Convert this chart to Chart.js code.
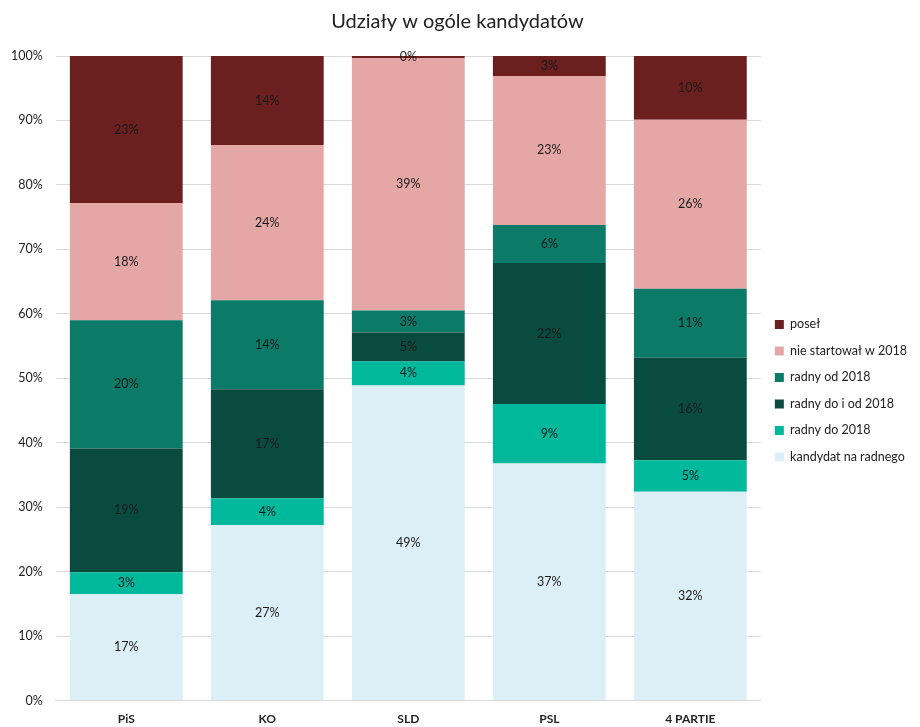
<!DOCTYPE html>
<html>
<head>
<meta charset="utf-8">
<script src="https://cdn.jsdelivr.net/npm/chart.js@4"></script>
<style>
  html, body { margin: 0; padding: 0; background: #fff; }
  #wrap { width: 920px; height: 727px; }
</style>
</head>
<body>
<div id="wrap"><canvas id="myChart" width="920" height="727"></canvas></div>
<script>
// categories and series (bottom of the stack first), values in %
var categories = ['PiS', 'KO', 'SLD', 'PSL', '4 PARTIE'];
var seriesNames = ['kandydat na radnego', 'radny do 2018', 'radny do i od 2018', 'radny od 2018', 'nie startował w 2018', 'poseł'];
var kandydat = [16.5, 27.2, 48.9, 36.8, 32.4];
var radnyDo = [3.4, 4.2, 3.7, 9.2, 4.9];
var radnyDoIOd = [19.2, 16.9, 4.5, 21.9, 15.9];
var radnyOd = [19.9, 13.8, 3.4, 5.9, 10.7];
var nieStartowal = [18.2, 24.1, 39.2, 23.1, 26.2];
var posel = [22.8, 13.8, 0.3, 3.1, 9.9];
var yTicks = [0, 10, 20, 30, 40, 50, 60, 70, 80, 90, 100];

var colors = ['#ddeff6', '#00b89c', '#0a4b40', '#0b7a66', '#e5a7a5', '#6b1f1f'];
var seriesData = [kandydat, radnyDo, radnyDoIOd, radnyOd, nieStartowal, posel];

var FONT = 'Lato, "Open Sans", sans-serif';

// draws the % labels in the middle of every segment
var segmentLabels = {
    id: 'segmentLabels',
    afterDatasetsDraw: function (chart) {
        var ctx = chart.ctx;
        ctx.save();
        ctx.font = '12.5px ' + FONT;
        ctx.fillStyle = '#1a1a1a';
        ctx.textAlign = 'center';
        ctx.textBaseline = 'middle';
        chart.data.datasets.forEach(function (ds, i) {
            var meta = chart.getDatasetMeta(i);
            meta.data.forEach(function (bar, j) {
                var mid = (bar.y + bar.base) / 2;
                ctx.fillText(Math.round(ds.data[j]) + '%', bar.x, mid);
            });
        });
        ctx.restore();
    }
};

var ctx = document.getElementById('myChart').getContext('2d');
var chart = new Chart(ctx, {
    type: 'bar',
    data: {
        labels: categories,
        datasets: seriesNames.map(function (name, i) {
            return {
                label: name,
                data: seriesData[i],
                backgroundColor: colors[i],
                borderWidth: 0,
                barPercentage: 0.8,
                categoryPercentage: 1.0
            };
        })
    },
    options: {
        responsive: false,
        animation: false,
        layout: { padding: { left: -2, right: 3, top: 4, bottom: -2 } },
        plugins: {
            title: {
                display: true,
                text: 'Udziały w ogóle kandydatów',
                color: '#222',
                font: { family: FONT, size: 20, weight: 'normal' },
                padding: { top: 6, bottom: 22 }
            },
            legend: {
                position: 'right',
                reverse: true,
                title: {
                    display: true,
                    text: ' ',
                    font: { family: FONT, size: 12 },
                    padding: { top: 0, bottom: 34 }
                },
                labels: {
                    color: '#222',
                    font: { family: FONT, size: 12.5 },
                    boxWidth: 9,
                    boxHeight: 9,
                    padding: 14
                }
            },
            tooltip: { enabled: false }
        },
        scales: {
            x: {
                stacked: true,
                grid: { display: false },
                border: { color: '#d9d9d9' },
                ticks: { color: '#222', font: { family: FONT, size: 12, weight: 'bold' } }
            },
            y: {
                stacked: true,
                min: 0,
                max: 100,
                afterBuildTicks: function (axis) {
                    axis.ticks = yTicks.map(function (v) { return { value: v }; });
                },
                grid: { color: '#d9d9d9', drawTicks: false },
                border: { display: false },
                ticks: {
                    color: '#222',
                    padding: 13,
                    font: { family: FONT, size: 12.5 },
                    callback: function (v) { return v + '%'; }
                }
            }
        }
    },
    plugins: [segmentLabels]
});
</script>
</body>
</html>
